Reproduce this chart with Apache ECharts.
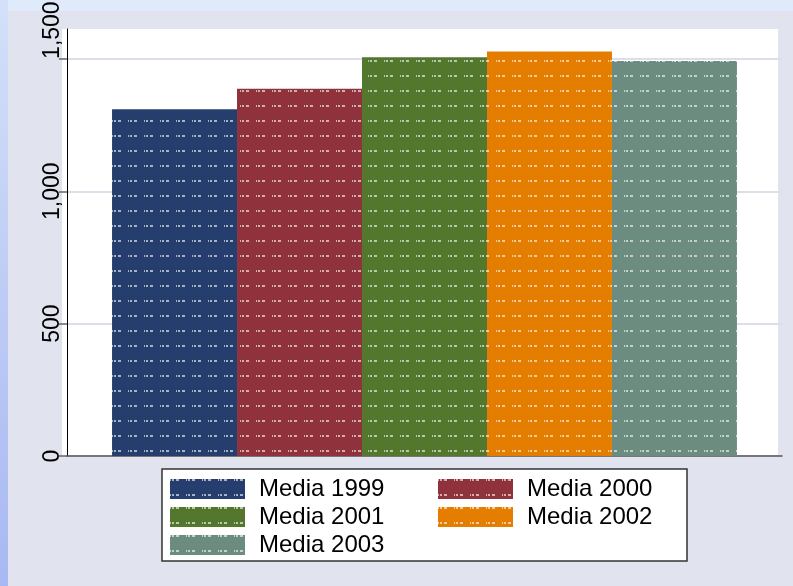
<!DOCTYPE html>
<html>
<head>
<meta charset="utf-8">
<script src="https://cdn.jsdelivr.net/npm/echarts@6/dist/echarts.min.js"></script>
<style>
html,body{margin:0;padding:0;width:793px;height:586px;overflow:hidden;background:#dfeafa;}
#c{width:793px;height:586px;}
</style>
</head>
<body>
<div id="c"></div>
<script>
const seriesNames = ['Media 1999', 'Media 2000', 'Media 2001', 'Media 2002', 'Media 2003'];
const seriesValues = [1310, 1387, 1506, 1528, 1492];
const seriesColors = ['#263e6e', '#8f323c', '#52772d', '#e57e00', '#6d8c80'];
const yTicks = [0, 500, 1000, 1500];
const categories = [''];

const chart = echarts.init(document.getElementById('c'), null, {renderer: 'canvas'});
const FONT = 'Liberation Sans, Arial, sans-serif';

const decal = {
  symbol: 'rect',
  symbolSize: 1,
  color: 'rgba(255,255,255,0.6)',
  dashArrayX: [[1, 1, 2, 2, 3, 6.5]],
  dashArrayY: [2, 13],
  rotation: 0
};

const series = seriesNames.map((n, i) => ({
  name: n,
  type: 'bar',
  data: [seriesValues[i]],
  barGap: '0%',
  barCategoryGap: '12.6%',
  itemStyle: {color: seriesColors[i], decal: decal},
  emphasis: {disabled: true}
}));

chart.setOption({
  animation: false,
  backgroundColor: 'transparent',
  aria: {enabled: true, decal: {show: true}},
  graphic: [
    {type: 'rect', z: -10, silent: true, shape: {x: 0, y: 0, width: 8, height: 586},
     style: {fill: new echarts.graphic.LinearGradient(0, 0, 0, 1, [{offset: 0, color: '#d3e0f8'}, {offset: 1, color: '#a9b8f2'}])}},
    {type: 'rect', z: -10, silent: true, shape: {x: 8, y: 11, width: 785, height: 575}, style: {fill: '#e1e4ee'}},
    {type: 'rect', z: -9, silent: true, shape: {x: 62, y: 29, width: 716, height: 427}, style: {fill: '#ffffff'}},
    {type: 'rect', z: -9, silent: true, shape: {x: 162, y: 469, width: 525, height: 92}, style: {fill: '#ffffff', stroke: '#333333', lineWidth: 1.5}}
  ],
  grid: {left: 67, right: 11, top: 29, bottom: 130, containLabel: false, outerBoundsMode: 'none'},
  xAxis: {
    type: 'category',
    data: categories,
    axisLine: {show: true, lineStyle: {color: '#555555', width: 1.5}},
    axisTick: {show: false},
    axisLabel: {show: false},
    splitLine: {show: false}
  },
  yAxis: {
    type: 'value',
    min: 0,
    max: 1613,
    interval: 500,
    axisLine: {show: true, lineStyle: {color: '#000000', width: 1}},
    axisTick: {show: true, length: 8, lineStyle: {color: '#666666', width: 1.5}, customValues: yTicks},
    axisLabel: {
      show: true, rotate: 90, margin: 3, color: '#000000', fontSize: 23, fontFamily: FONT,
      customValues: yTicks,
      alignMaxLabel: 'left',
      formatter: v => v.toLocaleString('en-US')
    },
    splitLine: {show: true, lineStyle: {color: '#dcdfea', width: 2}}
  },
  legend: [
    {
      orient: 'vertical', left: 170, top: 477, padding: 0, itemGap: 4,
      itemWidth: 75, itemHeight: 20, icon: 'rect',
      data: [seriesNames[0], seriesNames[2], seriesNames[4]],
      textStyle: {fontSize: 24, fontFamily: FONT, color: '#000', lineHeight: 20, padding: [0, 0, 0, 9]},
      selectedMode: false
    },
    {
      orient: 'vertical', left: 438, top: 477, padding: 0, itemGap: 4,
      itemWidth: 75, itemHeight: 20, icon: 'rect',
      data: [seriesNames[1], seriesNames[3]],
      textStyle: {fontSize: 24, fontFamily: FONT, color: '#000', lineHeight: 20, padding: [0, 0, 0, 9]},
      selectedMode: false
    }
  ],
  series: series
});
</script>
</body>
</html>
